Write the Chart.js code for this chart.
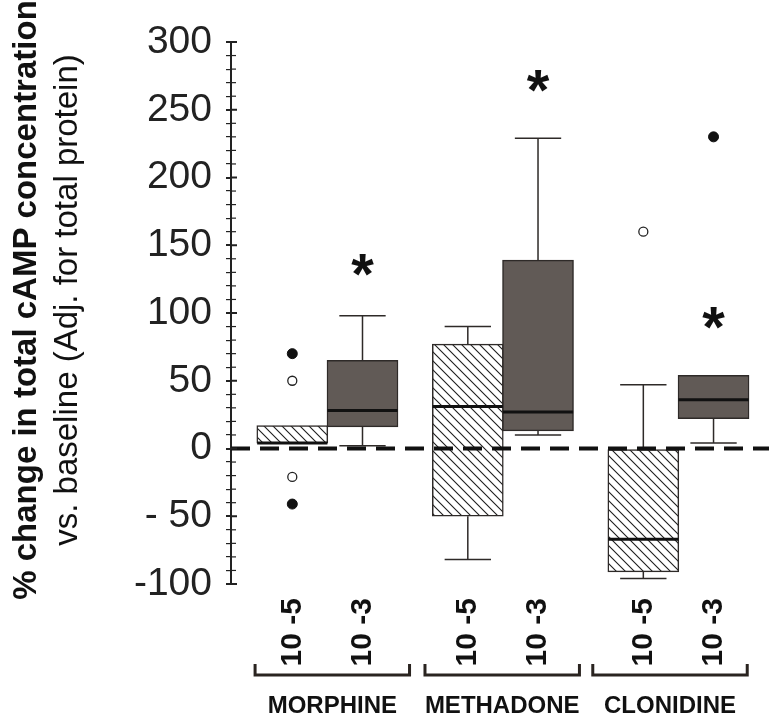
<!DOCTYPE html>
<html>
<head>
<meta charset="utf-8">
<script src="https://cdn.jsdelivr.net/npm/chart.js@4/dist/chart.umd.min.js"></script>
<style>
  body { margin: 0; background: #fff; }
  #wrap { width: 775px; height: 717px; position: relative; }
</style>
</head>
<body>
<div id="wrap"><canvas id="camp_chart"></canvas></div>
<script>
// drugs and doses
const drugs = ['MORPHINE', 'METHADONE', 'CLONIDINE'];
const doseLabels = ['10 -5', '10 -3', '10 -5', '10 -3', '10 -5', '10 -3'];
const positions = [1, 2, 3.5, 4.5, 6, 7];
const hatched = [true, false, true, false, true, false];

// box plot values (% change vs baseline)
const whiskerLow = [4, 2, -82, 10, -96, 4];
const q1 = [4, 16, -50, 13, -91, 22];
const median = [4, 28, 31, 27, -67, 36];
const q3 = [17, 65, 77, 139, 0, 54];
const whiskerHigh = [17, 98, 90, 229, 47, 54];

// outliers
const outlierFilled = [[1, 70], [1, -41], [7, 230]];
const outlierOpen = [[1, 50], [1, -21], [6, 160]];

// significance stars
const stars = [[2, 139], [4.5, 275], [7, 100]];

// y axis
const yTickValues = [300, 250, 200, 150, 100, 50, 0, -50, -100];
const yTickLabels = ['300', '250', '200', '150', '100', '50', '0', '- 50', '-100'];

const darkFill = '#615a56';
const edge = '#2e2a28';
// brackets sit a little off the group centres in the original
const bracketShift = [0.07, -0.01, -0.12];

// hatch pattern for the 10-5 boxes
function makeHatch() {
    const c = document.createElement('canvas');
    c.width = 9; c.height = 9;
    const g = c.getContext('2d');
    g.fillStyle = '#fff';
    g.fillRect(0, 0, 9, 9);
    g.strokeStyle = '#1e1e1e';
    g.lineWidth = 1.1;
    g.beginPath();
    g.moveTo(0, 0); g.lineTo(9, 9);
    g.moveTo(-1, 8); g.lineTo(1, 10);
    g.moveTo(8, -1); g.lineTo(10, 1);
    g.stroke();
    return g.createPattern(c, 'repeat');
}
const hatch = makeHatch();

const boxData = positions.map((p, i) => ({ x: p, y: [q1[i], q3[i]] }));

const boxExtras = {
    id: 'boxExtras',
    afterDatasetsDraw(chart) {
        const ctx = chart.ctx;
        const xs = chart.scales.x, ys = chart.scales.y;
        const area = chart.chartArea;
        const unit = xs.getPixelForValue(1) - xs.getPixelForValue(0);
        ctx.save();
        // whiskers
        ctx.strokeStyle = edge;
        ctx.lineWidth = 1.5;
        positions.forEach((p, i) => {
            const x = xs.getPixelForValue(p);
            const cap = unit * 0.33;
            if (whiskerHigh[i] > q3[i]) {
                ctx.beginPath();
                ctx.moveTo(x, ys.getPixelForValue(q3[i]));
                ctx.lineTo(x, ys.getPixelForValue(whiskerHigh[i]));
                ctx.moveTo(x - cap, ys.getPixelForValue(whiskerHigh[i]));
                ctx.lineTo(x + cap, ys.getPixelForValue(whiskerHigh[i]));
                ctx.stroke();
            }
            if (whiskerLow[i] < q1[i]) {
                ctx.beginPath();
                ctx.moveTo(x, ys.getPixelForValue(q1[i]));
                ctx.lineTo(x, ys.getPixelForValue(whiskerLow[i]));
                ctx.moveTo(x - cap, ys.getPixelForValue(whiskerLow[i]));
                ctx.lineTo(x + cap, ys.getPixelForValue(whiskerLow[i]));
                ctx.stroke();
            }
        });
        // medians
        ctx.strokeStyle = '#111';
        ctx.lineWidth = 3;
        positions.forEach((p, i) => {
            const x = xs.getPixelForValue(p);
            const y = ys.getPixelForValue(median[i]);
            ctx.beginPath();
            ctx.moveTo(x - unit / 2, y);
            ctx.lineTo(x + unit / 2, y);
            ctx.stroke();
        });
        // dashed baseline
        ctx.strokeStyle = '#111';
        ctx.lineWidth = 4;
        ctx.setLineDash([19, 10]);
        const y0 = ys.getPixelForValue(0);
        ctx.beginPath();
        ctx.moveTo(area.left, y0);
        ctx.lineTo(area.right, y0);
        ctx.stroke();
        ctx.setLineDash([]);
        // stars
        ctx.fillStyle = '#111';
        ctx.font = 'bold 58px "Liberation Sans", Arial, sans-serif';
        ctx.textAlign = 'center';
        ctx.textBaseline = 'alphabetic';
        stars.forEach(s => {
            ctx.fillText('*', xs.getPixelForValue(s[0]), ys.getPixelForValue(s[1]) + 34);
        });
        ctx.restore();
    }
};

const axisDecor = {
    id: 'axisDecor',
    afterDraw(chart) {
        const ctx = chart.ctx;
        const xs = chart.scales.x, ys = chart.scales.y;
        const area = chart.chartArea;
        ctx.save();
        // right half of the y tick marks
        ctx.strokeStyle = '#222';
        ys.ticks.forEach(t => {
            const y = ys.getPixelForValue(t.value);
            const major = t.value % 50 === 0;
            ctx.lineWidth = major ? 2 : 1.2;
            ctx.beginPath();
            ctx.moveTo(area.left, y);
            ctx.lineTo(area.left + (major ? 6 : 5), y);
            ctx.stroke();
        });
        // y axis title, two lines
        ctx.fillStyle = '#111';
        ctx.textAlign = 'center';
        ctx.textBaseline = 'middle';
        ctx.translate(27, 300);
        ctx.rotate(-Math.PI / 2);
        ctx.font = 'bold 33px "Liberation Sans", Arial, sans-serif';
        ctx.fillText('% change in total cAMP concentration', 0, 0);
        ctx.font = '33px "Liberation Sans", Arial, sans-serif';
        ctx.fillText('vs. baseline (Adj. for total protein)', 0, 41);
        ctx.setTransform(1, 0, 0, 1, 0, 0);
        // brackets and drug names
        ctx.strokeStyle = '#2a2420';
        ctx.lineWidth = 3;
        ctx.font = 'bold 24px "Liberation Sans", Arial, sans-serif';
        ctx.fillStyle = '#111';
        drugs.forEach((d, g) => {
            const mid = (positions[g * 2] + positions[g * 2 + 1]) / 2 + bracketShift[g];
            const left = xs.getPixelForValue(mid - 1.1);
            const right = xs.getPixelForValue(mid + 1.1);
            ctx.beginPath();
            ctx.moveTo(left, 664);
            ctx.lineTo(left, 675);
            ctx.lineTo(right, 675);
            ctx.lineTo(right, 664);
            ctx.stroke();
            ctx.fillText(d, (left + right) / 2, 706);
        });
        ctx.restore();
    }
};

const ctx = document.getElementById('camp_chart').getContext('2d');
const camp_chart = new Chart(ctx, {
    type: 'bar',
    data: {
        datasets: [{
            type: 'bar',
            data: boxData,
            backgroundColor: hatched.map(h => h ? hatch : darkFill),
            borderColor: edge,
            borderWidth: 1.5,
            borderSkipped: false,
            barThickness: 71,
            grouped: false,
            order: 3
        }, {
            type: 'scatter',
            data: outlierFilled.map(o => ({ x: o[0], y: o[1] })),
            pointRadius: 5,
            backgroundColor: '#111',
            borderColor: '#111',
            borderWidth: 1,
            order: 1
        }, {
            type: 'scatter',
            data: outlierOpen.map(o => ({ x: o[0], y: o[1] })),
            pointRadius: 4.5,
            backgroundColor: '#fff',
            borderColor: '#222',
            borderWidth: 1.3,
            order: 1
        }]
    },
    options: {
        responsive: true,
        maintainAspectRatio: false,
        animation: false,
        layout: { padding: { top: 42, right: 0, left: 0, bottom: 0 } },
        plugins: { legend: { display: false }, tooltip: { enabled: false } },
        scales: {
            x: {
                type: 'linear',
                offset: false,
                min: 0.127,
                max: 7.79,
                grid: { display: false, drawTicks: false },
                border: { display: false },
                afterBuildTicks: scale => {
                    scale.ticks = positions.map(p => ({ value: p }));
                },
                afterFit: scale => { scale.height = 133; },
                ticks: {
                    autoSkip: false,
                    minRotation: 90,
                    maxRotation: 90,
                    padding: 14,
                    color: '#111',
                    font: { family: '"Liberation Sans", Arial, sans-serif', size: 30, weight: 'bold' },
                    callback: value => doseLabels[positions.indexOf(value)]
                }
            },
            y: {
                min: -100,
                max: 300,
                grid: {
                    drawOnChartArea: false,
                    drawTicks: true,
                    tickLength: 5,
                    color: '#222',
                    lineWidth: c => (c.tick && c.tick.value % 50 === 0) ? 2 : 1.2
                },
                border: { display: true, color: '#222', width: 2 },
                afterFit: scale => { scale.width = 231; },
                ticks: {
                    stepSize: 10,
                    autoSkip: false,
                    padding: 14,
                    color: '#222',
                    font: { family: '"Liberation Sans", Arial, sans-serif', size: 39 },
                    callback: value => {
                        const k = yTickValues.indexOf(value);
                        return k >= 0 ? yTickLabels[k] : '';
                    }
                }
            }
        }
    },
    plugins: [boxExtras, axisDecor]
});
</script>
</body>
</html>
